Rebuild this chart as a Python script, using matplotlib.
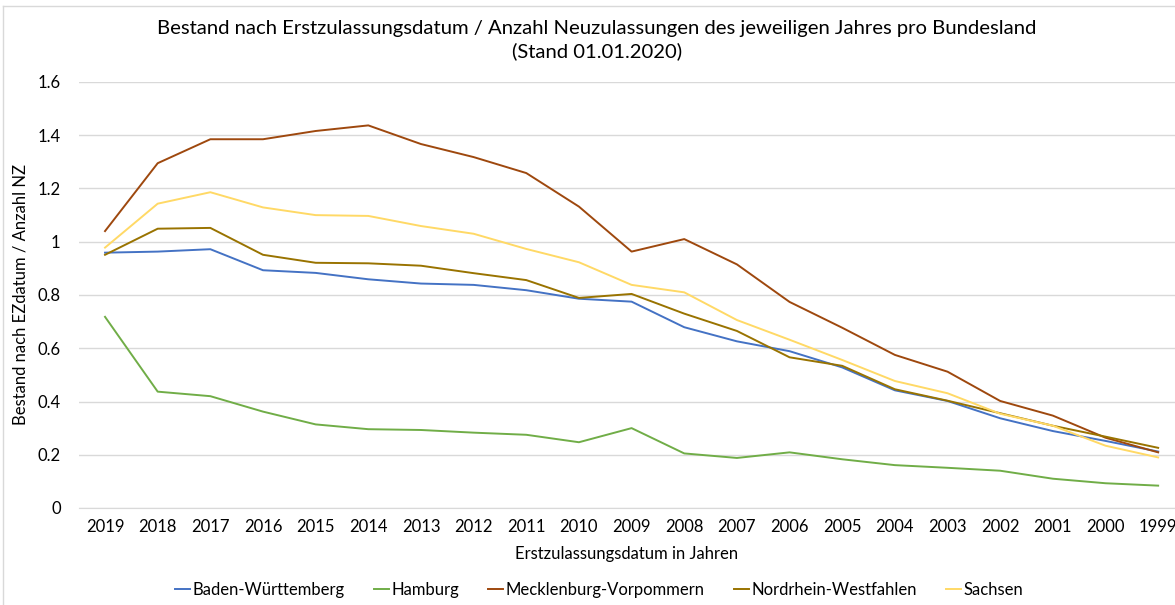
import numpy as np
import matplotlib.pyplot as plt
from matplotlib.lines import Line2D

plt.rcParams['font.family'] = ['Lato', 'DejaVu Sans']

years = ['2019', '2018', '2017', '2016', '2015', '2014', '2013', '2012', '2011', '2010', '2009',
         '2008', '2007', '2006', '2005', '2004', '2003', '2002', '2001', '2000', '1999']

bw = [0.959, 0.963, 0.972, 0.893, 0.883, 0.859, 0.843, 0.838, 0.818, 0.786, 0.775,
      0.679, 0.626, 0.589, 0.528, 0.442, 0.402, 0.337, 0.289, 0.252, 0.212]
hh = [0.718, 0.437, 0.420, 0.362, 0.314, 0.296, 0.293, 0.283, 0.275, 0.247, 0.300,
      0.205, 0.188, 0.209, 0.183, 0.161, 0.151, 0.140, 0.110, 0.093, 0.084]
mv = [1.040, 1.295, 1.385, 1.385, 1.416, 1.437, 1.367, 1.318, 1.258, 1.132, 0.963,
      1.010, 0.915, 0.774, 0.677, 0.575, 0.512, 0.402, 0.347, 0.264, 0.209]
nrw = [0.951, 1.049, 1.052, 0.951, 0.921, 0.919, 0.910, 0.882, 0.856, 0.789, 0.804,
       0.730, 0.665, 0.566, 0.534, 0.446, 0.403, 0.356, 0.309, 0.268, 0.226]
sn = [0.978, 1.143, 1.186, 1.129, 1.100, 1.097, 1.059, 1.030, 0.973, 0.923, 0.838,
      0.810, 0.706, 0.632, 0.556, 0.477, 0.431, 0.354, 0.309, 0.234, 0.190]

series = [('Baden-Württemberg', bw, '#4472C4'),
          ('Hamburg', hh, '#70AD47'),
          ('Mecklenburg-Vorpommern', mv, '#9E480E'),
          ('Nordrhein-Westfahlen', nrw, '#997300'),
          ('Sachsen', sn, '#FFD966')]

fig = plt.figure(figsize=(11.75, 6.05), dpi=100)
ax = fig.add_axes([78.7 / 1175, 1 - 508 / 605, (1175 - 78.7) / 1175, (508 - 82) / 605])

x = np.arange(len(years))
for name, vals, col in series:
    ax.plot(x, vals, color=col, lw=1.4, label=name)

ax.set_xlim(-0.5, 20.32)
ax.set_ylim(0, 1.6)
ax.set_yticks(np.arange(0, 1.61, 0.2))
ax.set_yticklabels(['0', '0.2', '0.4', '0.6', '0.8', '1', '1.2', '1.4', '1.6'])
ax.set_xticks(x)
ax.set_xticklabels(years)
ax.grid(axis='y', color='#D9D9D9', lw=1)
ax.set_axisbelow(True)
for s in ['top', 'right', 'left']:
    ax.spines[s].set_visible(False)
ax.spines['bottom'].set_color('#D9D9D9')
ax.tick_params(length=0, labelsize=12, colors='#000000')
ax.tick_params(axis='y', pad=13)
ax.tick_params(axis='x', pad=8)

ax.set_xlabel('Erstzulassungsdatum in Jahren', fontsize=12, labelpad=8)
ax.set_ylabel('Bestand nach EZdatum / Anzahl NZ', fontsize=12)
ax.yaxis.set_label_coords(-0.0455, 0.5)

fig.text(0.508, 1 - 40 / 605, 'Bestand nach Erstzulassungsdatum / Anzahl Neuzulassungen des jeweiligen Jahres pro Bundesland\n(Stand 01.01.2020)',
         ha='center', va='center', fontsize=14.6, linespacing=1.35)

fig.legend(loc='center', bbox_to_anchor=(0.51, 1 - 590 / 605), ncol=5, frameon=False,
           fontsize=12, handlelength=0.9, columnspacing=1.75, handletextpad=0.15)

fig.add_artist(Line2D([3 / 1175, 3 / 1175], [0, 1 - 6 / 605], color='#D9D9D9', lw=1))
fig.add_artist(Line2D([3 / 1175, 1], [1 - 6 / 605, 1 - 6 / 605], color='#D9D9D9', lw=1))

fig.savefig('out.png', dpi=100)
